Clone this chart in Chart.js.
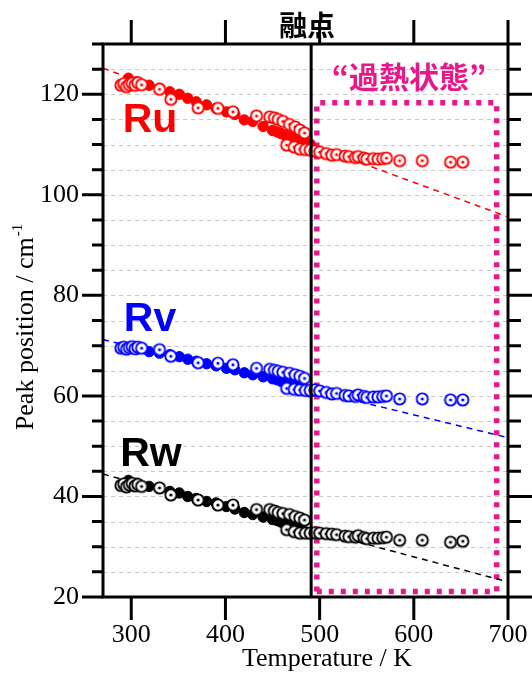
<!DOCTYPE html>
<html><head><meta charset="utf-8">
<script src="https://cdn.jsdelivr.net/npm/chart.js@4.4.1/dist/chart.umd.min.js"></script>
<style>html,body{margin:0;padding:0;background:#fff;}canvas{display:block;}</style>
</head><body>
<canvas id="c" width="532" height="675"></canvas>
<script>
// ---------------- data ----------------
const xTicks = [300, 400, 500, 600, 700];
const yMajorTicks = [20, 40, 60, 80, 100, 120];
const yMinorStep = 5;

const meltingPoint = 491;            // K
const superheatBoxT = [497, 688];    // K
const superheatBoxV = [21.1, 118.3]; // cm-1

// filled circles
const tempFilled = [297, 306, 319, 330, 341, 351, 360, 369, 380, 390, 401, 410, 420, 429, 440, 450, 455, 459, 463, 466, 469, 472, 475, 478, 481, 484, 487, 490];
const ruFilled = [123.2, 122.5, 121.8, 121.2, 120.5, 120.0, 119.2, 118.5, 117.9, 117.2, 116.5, 116.0, 114.9, 114.6, 113.6, 112.8, 112.5, 112.2, 111.9, 111.7, 111.5, 111.3, 111.1, 110.9, 110.7, 110.5, 110.3, 110.1];
const rvFilled = [69.6, 69.3, 68.8, 68.5, 68.2, 67.8, 67.3, 66.9, 66.4, 66.0, 65.5, 65.2, 64.6, 64.2, 63.8, 63.4, 63.2, 62.9, 62.6, 62.4, 62.2, 62.0, 61.8, 61.6, 61.4, 61.2, 61.0, 60.8];
const rwFilled = [43.2, 42.6, 42.0, 41.7, 41.0, 40.7, 40.0, 39.6, 39.0, 38.7, 38.0, 37.5, 36.8, 36.4, 35.9, 35.4, 35.2, 34.9, 34.6, 34.4, 34.1, 33.9, 33.7, 33.4, 33.2, 33.0, 32.8, 32.6];

// open (dotted) circles
const tempOpen = [289, 292, 295, 298, 301, 304, 307, 311,
  330, 342, 371, 392, 408, 433, 447, 452, 456, 461, 468, 474, 479, 484,
  465, 473, 479, 485, 490,
  495, 500, 507, 513, 518, 527, 531, 538, 541, 547, 550, 557, 562, 567, 571, 585, 609, 639, 652];
const ruOpen = [121.8, 122.1, 121.5, 121.9, 122.2, 121.8, 122.3, 121.9,
  121.0, 119.0, 117.3, 117.2, 116.5, 115.7, 115.5, 115.3, 115.0, 114.6, 114.0, 113.5, 112.9, 112.3,
  109.9, 109.5, 109.1, 109.0, 108.9,
  108.7, 108.5, 108.2, 107.9, 108.0, 107.7, 107.6, 107.4, 107.6, 107.3, 107.1, 107.2, 107.1, 107.2, 107.3, 106.8, 106.8, 106.5, 106.5];
const rvOpen = [69.5, 69.7, 69.3, 69.6, 69.8, 69.4, 69.7, 69.5,
  69.2, 67.9, 66.6, 66.5, 66.2, 65.5, 65.3, 65.1, 64.9, 64.7, 64.5, 64.2, 63.9, 63.5,
  61.5, 61.3, 61.2, 61.1, 61.1,
  61.2, 61.0, 60.7, 60.4, 60.5, 60.1, 60.0, 59.9, 60.2, 59.9, 59.7, 59.8, 59.8, 59.9, 60.0, 59.4, 59.4, 59.2, 59.2];
const rwOpen = [42.2, 42.5, 41.9, 42.3, 42.6, 42.1, 42.4, 42.0,
  41.7, 40.3, 39.3, 38.3, 38.3, 37.4, 37.4, 37.1, 36.8, 36.6, 36.4, 36.0, 35.7, 35.3,
  33.4, 33.0, 32.7, 32.7, 32.7,
  32.8, 32.7, 32.6, 32.5, 32.4, 32.1, 32.0, 31.9, 32.2, 31.8, 31.6, 31.7, 31.7, 31.8, 31.9, 31.3, 31.3, 30.9, 31.1];

// linear fits (dashed)
const fitT = [270, 700];
const ruFit = [125.2, 95.6];
const rvFit = [71.2, 51.7];
const rwFit = [44.45, 23.0];

// ---------------- helpers ----------------
const RED = '#ff0000', BLUE = '#0000ff', BLACK = '#000000', PINK = '#e8188a';
const pts = (xs, ys) => xs.map((x, i) => ({x, y: ys[i]}));

function ring(color) {
  const c = document.createElement('canvas');
  c.width = 16; c.height = 16;
  const g = c.getContext('2d');
  g.beginPath(); g.arc(8, 8, 5.6, 0, Math.PI * 2);
  g.fillStyle = '#fff'; g.fill();
  g.lineWidth = 1.9; g.strokeStyle = color; g.stroke();
  g.beginPath(); g.arc(8, 8, 1.6, 0, Math.PI * 2);
  g.fillStyle = color; g.fill();
  return c;
}

function filledDs(xs, ys, color) {
  return {data: pts(xs, ys), pointStyle: 'circle', pointRadius: 5.2,
    backgroundColor: color, borderColor: color, pointBorderWidth: 1, showLine: false, order: 5};
}
function openDs(xs, ys, color) {
  return {data: pts(xs, ys), pointStyle: ring(color), showLine: false, order: 4};
}
function fitDs(ys, color) {
  return {data: pts(fitT, ys), showLine: true, pointRadius: 0, borderColor: color,
    borderWidth: 1.5, borderDash: [6, 5], order: 9};
}

const boxData = [
  {x: superheatBoxT[0], y: superheatBoxV[0]}, {x: superheatBoxT[1], y: superheatBoxV[0]},
  {x: superheatBoxT[1], y: superheatBoxV[1]}, {x: superheatBoxT[0], y: superheatBoxV[1]},
  {x: superheatBoxT[0], y: superheatBoxV[0]}];

const SERIF = '"Liberation Serif", "Times New Roman", serif';

const decor = {
  id: 'decor',
  beforeDatasetsDraw(chart) {
    const {ctx, chartArea: a, scales: {y}} = chart;
    ctx.save();
    ctx.strokeStyle = '#c8c8c8'; ctx.lineWidth = 1; ctx.setLineDash([4, 4]);
    for (let v = y.min + yMinorStep; v < y.max; v += yMinorStep) {
      const py = Math.round(y.getPixelForValue(v)) + 0.5;
      ctx.beginPath(); ctx.moveTo(a.left, py); ctx.lineTo(a.right, py); ctx.stroke();
    }
    ctx.restore();
  },
  afterDraw(chart) {
    const {ctx, chartArea: a, scales: {x, y}} = chart;
    ctx.save();
    ctx.strokeStyle = '#000'; ctx.lineWidth = 3; ctx.lineCap = 'butt';
    ctx.strokeRect(a.left, a.top, a.right - a.left, a.bottom - a.top);
    ctx.beginPath();
    for (let v = y.min; v <= y.max + 0.001; v += yMinorStep) {
      const py = y.getPixelForValue(v);
      const major = yMajorTicks.includes(v);
      ctx.moveTo(a.left - (major ? 21 : 11), py); ctx.lineTo(a.left, py);
      ctx.moveTo(a.right, py); ctx.lineTo(a.right + (major ? 24 : 13), py);
    }
    for (const v of xTicks) {
      const px = x.getPixelForValue(v);
      ctx.moveTo(px, a.bottom); ctx.lineTo(px, a.bottom + 23);
      ctx.moveTo(px, a.top); ctx.lineTo(px, a.top - 24);
    }
    ctx.stroke();

    // annotation texts
    ctx.textAlign = 'center'; ctx.textBaseline = 'middle';
    ctx.fillStyle = '#000';
    ctx.font = 'bold 28px "Noto Sans CJK JP"';
    ctx.fillText('融点', 307, 25);
    ctx.fillStyle = PINK;
    ctx.font = 'bold 30px "Noto Sans CJK JP"';
    ctx.fillText('“過熱状態”', 409, 77);
    ctx.font = 'bold 41px "Liberation Sans", Arial, sans-serif';
    ctx.fillStyle = RED; ctx.fillText('Ru', 150, 121);
    ctx.fillStyle = BLUE; ctx.fillText('Rv', 150, 320);
    ctx.fillStyle = BLACK; ctx.fillText('Rw', 151, 455);

    // axis titles
    ctx.fillStyle = '#000';
    ctx.font = '26px ' + SERIF;
    ctx.fillText('Temperature / K', 327, 659);

    ctx.translate(26, 327);
    ctx.rotate(-Math.PI / 2);
    const main = 'Peak position / cm';
    ctx.font = '26px ' + SERIF;
    const mw = ctx.measureText(main).width;
    ctx.font = '15px ' + SERIF;
    const sw = ctx.measureText('-1').width;
    const start = -(mw + sw + 1) / 2;
    ctx.textAlign = 'left';
    ctx.font = '26px ' + SERIF;
    ctx.fillText(main, start, 0);
    ctx.font = '15px ' + SERIF;
    ctx.fillText('-1', start + mw + 1, -8);
    ctx.restore();
  }
};

new Chart(document.getElementById('c'), {
  type: 'scatter',
  data: {
    datasets: [
      {data: [{x: meltingPoint, y: 20}, {x: meltingPoint, y: 130}], showLine: true, pointRadius: 0,
        borderColor: '#000', borderWidth: 3, order: 1},
      openDs(tempOpen, ruOpen, RED),
      openDs(tempOpen, rvOpen, BLUE),
      openDs(tempOpen, rwOpen, BLACK),
      filledDs(tempFilled, ruFilled, RED),
      filledDs(tempFilled, rvFilled, BLUE),
      filledDs(tempFilled, rwFilled, BLACK),
      fitDs(ruFit, RED),
      fitDs(rvFit, BLUE),
      fitDs(rwFit, BLACK),
      {data: boxData, showLine: true, pointRadius: 0, borderColor: PINK, borderWidth: 5.5,
        borderDash: [5, 7], borderCapStyle: 'butt', borderJoinStyle: 'miter', order: 10}
    ]
  },
  options: {
    responsive: false, animation: false,
    layout: {padding: {top: 44, right: 24, left: 0, bottom: 0}},
    plugins: {legend: {display: false}, tooltip: {enabled: false}},
    scales: {
      x: {type: 'linear', position: 'bottom', min: 270, max: 700,
        grid: {display: false, drawTicks: false}, border: {display: false},
        afterBuildTicks: s => { s.ticks = xTicks.map(v => ({value: v})); },
        afterFit: s => { s.height = 78; s.paddingLeft = 0; s.paddingRight = 0; },
        ticks: {padding: 23, color: '#000', maxRotation: 0, autoSkip: false,
          font: {family: SERIF, size: 26}}},
      y: {type: 'linear', position: 'left', min: 20, max: 130,
        grid: {display: false, drawTicks: false}, border: {display: false},
        afterBuildTicks: s => { s.ticks = yMajorTicks.map(v => ({value: v})); },
        afterFit: s => { s.width = 103; s.paddingTop = 0; s.paddingBottom = 0; },
        ticks: {padding: 24, color: '#000', autoSkip: false,
          font: {family: SERIF, size: 26}}}
    }
  },
  plugins: [decor]
});
</script>
</body></html>
